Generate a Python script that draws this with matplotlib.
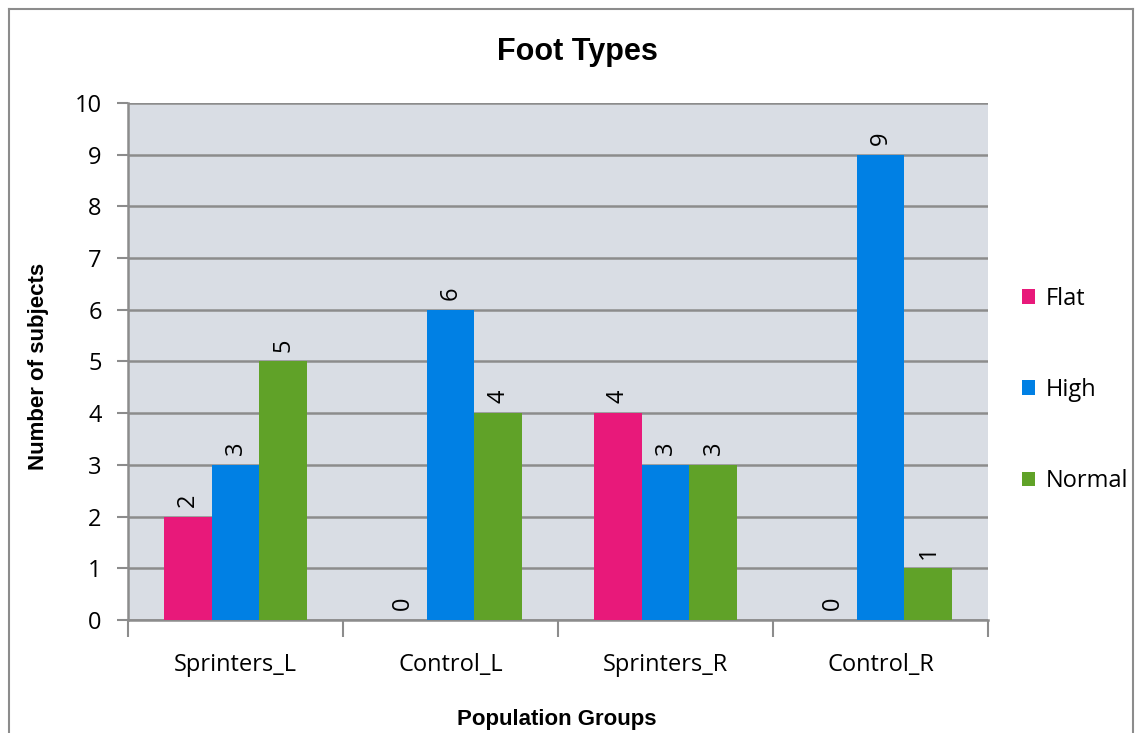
import matplotlib.pyplot as plt
import numpy as np
from matplotlib.lines import Line2D

groups = ["Sprinters_L", "Control_L", "Sprinters_R", "Control_R"]
series = ["Flat", "High", "Normal"]
flat = [2, 0, 4, 0]
high = [3, 6, 3, 9]
normal = [5, 4, 3, 1]
colors = ["#E8197A", "#0080E4", "#60A228"]

fig = plt.figure(figsize=(11.38, 7.33), dpi=100)
ax = fig.add_axes([0.1125, 0.1542, 0.7557, 0.7053])
ax.set_facecolor("#D9DDE4")

x = np.arange(len(groups))
w = 0.223
for i, (name, vals) in enumerate(zip(series, [flat, high, normal])):
    bars = ax.bar(x + (i - 1) * w, vals, width=w, color=colors[i], label=name, zorder=3)
    ax.bar_label(bars, padding=7, rotation=90, fontsize=17, family="Open Sans")

ax.set_xlim(-0.5, 3.5)
ax.set_ylim(0, 10)
ax.set_yticks(range(0, 11))
ax.yaxis.grid(True, color="#8C8C8C", linewidth=1.8, zorder=1)
ax.set_axisbelow(True)

ax.set_xticks(x)
ax.set_xticklabels(groups)
ax.set_xticks(np.arange(-0.5, 4.0, 1.0), minor=True)
ax.tick_params(axis="x", which="major", length=0, pad=24, labelsize=17)
ax.tick_params(axis="x", which="minor", length=12, width=1.5, color="#8C8C8C")
ax.tick_params(axis="y", length=8, width=1.5, color="#8C8C8C", labelsize=17, pad=11)
for lbl in ax.get_xticklabels() + ax.get_yticklabels():
    lbl.set_family("Open Sans")

for s in ["top", "right"]:
    ax.spines[s].set_visible(False)
for s in ["left", "bottom"]:
    ax.spines[s].set_color("#8C8C8C")
    ax.spines[s].set_linewidth(1.8)

fig.text(0.507, 0.929, "Foot Types", ha="center", va="center",
         fontsize=22, fontweight="bold", family="Liberation Sans")
fig.text(0.489, 0.018, "Population Groups", ha="center", va="center",
         fontsize=16, fontweight="bold", family="Liberation Sans")
fig.text(0.034, 0.5, "Number of subjects", ha="center", va="center", rotation=90,
         fontsize=16, fontweight="bold", family="Liberation Sans")

fig.legend(loc="center left", bbox_to_anchor=(0.879, 0.468), frameon=False,
           prop={"family": "Open Sans", "size": 17}, labelspacing=2.85,
           handlelength=0.58, handleheight=0.58, handletextpad=0.45)

# outer chart frame
frame = dict(color="#8C8C8C", linewidth=1.5, transform=fig.transFigure)
fig.add_artist(Line2D([0.0075, 0.0075], [0.0, 0.988], **frame))
fig.add_artist(Line2D([0.0075, 0.996], [0.988, 0.988], **frame))
fig.add_artist(Line2D([0.996, 0.996], [0.0, 0.988], **frame))

fig.savefig("out.png", dpi=100)
